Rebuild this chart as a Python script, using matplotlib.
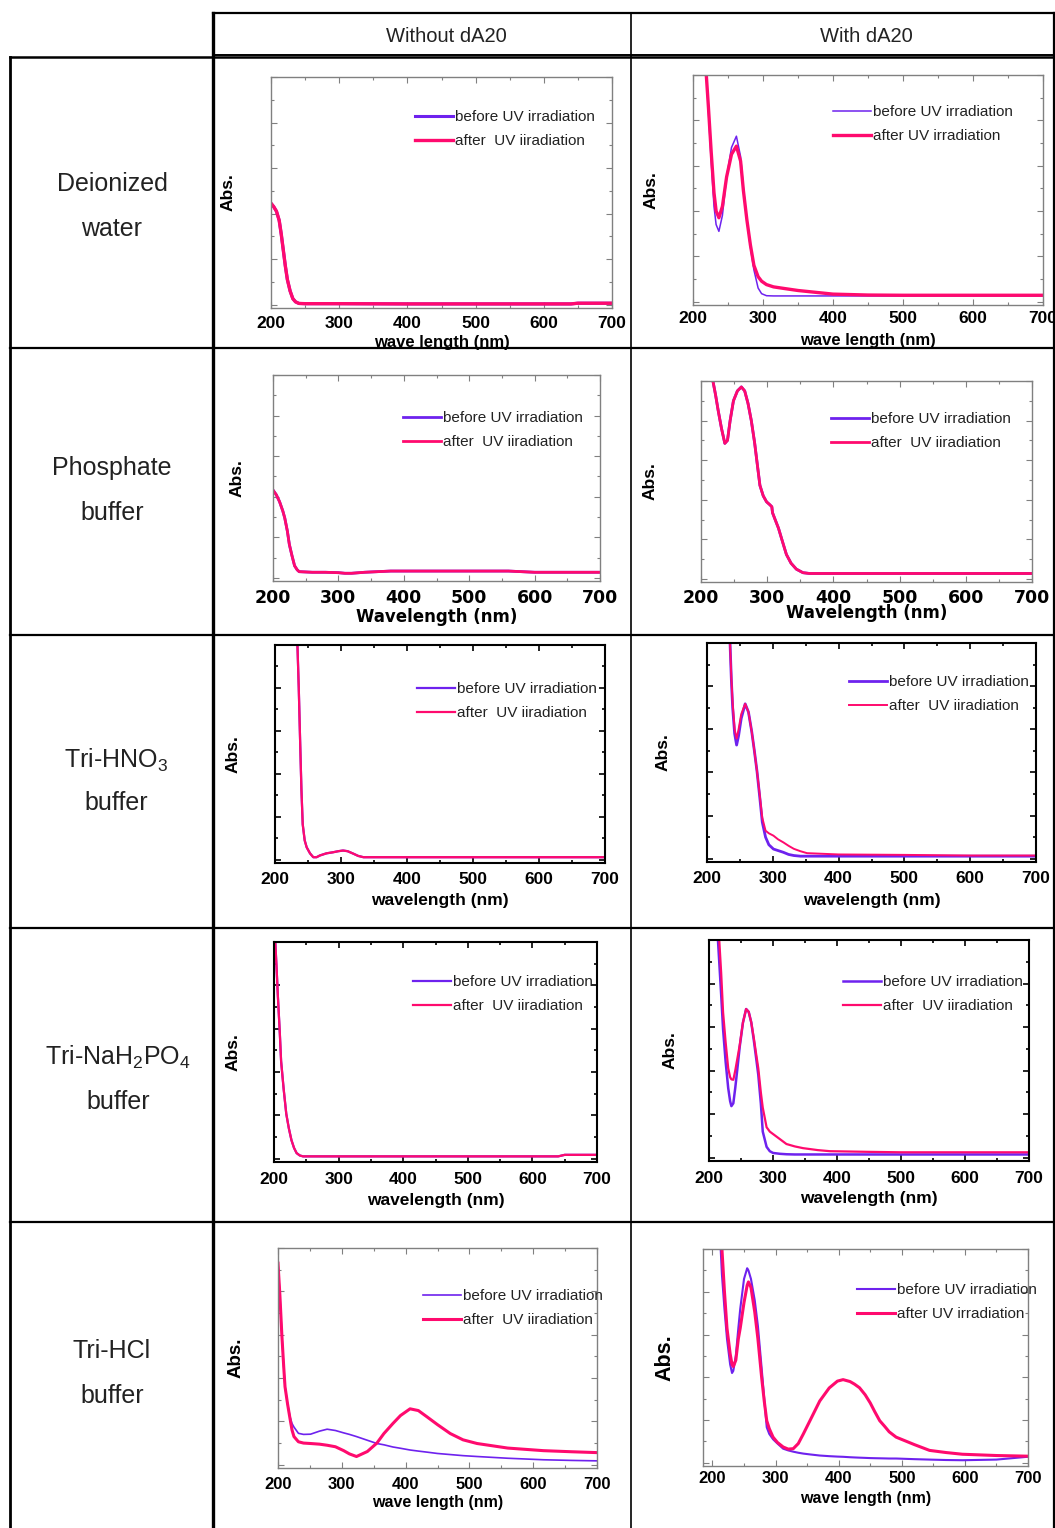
import matplotlib
matplotlib.use("Agg")
import matplotlib.pyplot as plt
from matplotlib.lines import Line2D
from matplotlib.ticker import MultipleLocator

plt.rcParams["mathtext.default"] = "regular"

W, H = 1055, 1528
BEFORE_COLOR = "#6e22ee"
AFTER_COLOR = "#ff0a6e"

col_titles = ["Without dA20", "With dA20"]
row_titles = [("Deionized", "water"), ("Phosphate", "buffer"), ("Tri-HNO$_3$", "buffer"),
              ("Tri-NaH$_2$PO$_4$", "buffer"), ("Tri-HCl", "buffer")]

# ---- spectra (relative absorbance, 0 = baseline, 1 = top of frame)
water_no_wl = [200, 204, 208, 212, 215, 218, 221, 224, 228, 232, 236, 241, 250, 300, 400, 500, 600, 640, 650, 700]
water_no_before = [0.445, 0.43, 0.41, 0.37, 0.31, 0.24, 0.17, 0.11, 0.06, 0.026, 0.012, 0.005, 0.004, 0.004, 0.003, 0.003, 0.003, 0.003, 0.006, 0.006]
water_no_after = [0.445, 0.43, 0.41, 0.37, 0.31, 0.24, 0.17, 0.11, 0.06, 0.026, 0.012, 0.005, 0.004, 0.004, 0.003, 0.003, 0.003, 0.003, 0.006, 0.006]

water_da_wl = [212, 216, 219, 222, 226, 230, 233, 237, 242, 248, 255, 262, 268, 272, 277, 282, 287, 293, 298, 305, 315, 330, 350, 400, 450, 500, 600, 700]
water_da_before = [1.25, 1.12, 1.0, 0.84, 0.62, 0.42, 0.34, 0.31, 0.38, 0.55, 0.68, 0.73, 0.64, 0.50, 0.36, 0.24, 0.14, 0.06, 0.035, 0.026, 0.025, 0.025, 0.025, 0.025, 0.025, 0.025, 0.025, 0.025]
water_da_after = [1.25, 1.12, 1.0, 0.86, 0.66, 0.48, 0.40, 0.37, 0.42, 0.55, 0.65, 0.686, 0.62, 0.49, 0.36, 0.25, 0.16, 0.11, 0.09, 0.075, 0.065, 0.058, 0.049, 0.033, 0.029, 0.028, 0.028, 0.028]

phos_no_wl = [200, 205, 210, 215, 218, 222, 225, 229, 233, 237, 240, 260, 280, 300, 310, 320, 340, 380, 450, 500, 560, 600, 700]
phos_no_before = [0.433, 0.41, 0.376, 0.33, 0.295, 0.23, 0.165, 0.11, 0.06, 0.04, 0.031, 0.028, 0.028, 0.026, 0.023, 0.023, 0.028, 0.034, 0.034, 0.034, 0.034, 0.028, 0.028]
phos_no_after = [0.433, 0.41, 0.376, 0.33, 0.295, 0.23, 0.165, 0.11, 0.06, 0.04, 0.031, 0.028, 0.028, 0.026, 0.023, 0.023, 0.028, 0.034, 0.034, 0.034, 0.034, 0.028, 0.028]

phos_da_wl = [214, 218, 222, 226, 231, 236, 240, 244, 249, 255, 261, 266, 271, 276, 281, 285, 289, 294, 299, 304, 307, 308, 312, 317, 323, 329, 336, 344, 354, 364, 400, 500, 600, 700]
phos_da_before = [1.08, 1.0, 0.93, 0.85, 0.76, 0.685, 0.70, 0.80, 0.90, 0.95, 0.97, 0.95, 0.887, 0.80, 0.688, 0.58, 0.473, 0.42, 0.39, 0.375, 0.365, 0.335, 0.30, 0.257, 0.19, 0.124, 0.08, 0.05, 0.032, 0.028, 0.028, 0.028, 0.028, 0.028]
phos_da_after = [1.08, 1.0, 0.93, 0.85, 0.76, 0.685, 0.70, 0.80, 0.90, 0.95, 0.97, 0.95, 0.887, 0.80, 0.688, 0.58, 0.473, 0.42, 0.39, 0.375, 0.365, 0.335, 0.30, 0.257, 0.19, 0.124, 0.08, 0.05, 0.032, 0.028, 0.028, 0.028, 0.028, 0.028]

hno3_no_wl = [233, 234, 236, 238, 240, 242, 245, 248, 253, 258, 263, 268, 278, 288, 296, 303, 310, 319, 326, 334, 350, 400, 500, 600, 700]
hno3_no_before = [1.1, 1.0, 0.8, 0.56, 0.33, 0.165, 0.09, 0.058, 0.03, 0.012, 0.012, 0.02, 0.03, 0.035, 0.04, 0.043, 0.04, 0.028, 0.018, 0.012, 0.012, 0.012, 0.012, 0.012, 0.012]
hno3_no_after = [1.1, 1.0, 0.8, 0.56, 0.33, 0.165, 0.09, 0.058, 0.03, 0.012, 0.012, 0.02, 0.03, 0.035, 0.04, 0.043, 0.04, 0.028, 0.018, 0.012, 0.012, 0.012, 0.012, 0.012, 0.012]

hno3_da_wl = [233, 235, 237, 239, 242, 245, 248, 252, 258, 263, 268, 272, 276, 280, 284, 289, 294, 301, 308, 316, 324, 332, 342, 352, 400, 500, 600, 700]
hno3_da_before = [1.1, 1.0, 0.83, 0.7, 0.58, 0.527, 0.57, 0.65, 0.718, 0.68, 0.589, 0.50, 0.405, 0.29, 0.17, 0.10, 0.065, 0.045, 0.038, 0.03, 0.02, 0.015, 0.012, 0.012, 0.012, 0.012, 0.012, 0.012]
hno3_da_after = [1.1, 1.0, 0.84, 0.72, 0.6, 0.557, 0.6, 0.67, 0.718, 0.68, 0.589, 0.50, 0.405, 0.30, 0.19, 0.13, 0.118, 0.107, 0.09, 0.076, 0.06, 0.046, 0.035, 0.026, 0.02, 0.018, 0.015, 0.015]

nah2po4_no_wl = [200, 202, 204, 206, 209, 211, 215, 219, 223, 227, 231, 235, 240, 245, 300, 400, 500, 600, 640, 650, 700]
nah2po4_no_before = [1.1, 1.0, 0.88, 0.75, 0.58, 0.45, 0.32, 0.207, 0.14, 0.086, 0.05, 0.026, 0.015, 0.011, 0.011, 0.011, 0.011, 0.011, 0.011, 0.018, 0.018]
nah2po4_no_after = [1.1, 1.0, 0.88, 0.75, 0.58, 0.45, 0.32, 0.207, 0.14, 0.086, 0.05, 0.026, 0.015, 0.011, 0.011, 0.011, 0.011, 0.011, 0.011, 0.018, 0.018]

nah2po4_da_wl = [212, 214, 216, 219, 222, 226, 230, 233, 235, 238, 241, 244, 248, 253, 258, 262, 266, 270, 274, 277, 281, 284, 290, 295, 300, 311, 321, 334, 347, 370, 389, 450, 500, 600, 700]
nah2po4_da_before = [1.15, 1.0, 0.9, 0.75, 0.59, 0.44, 0.32, 0.26, 0.237, 0.25, 0.32, 0.40, 0.51, 0.62, 0.683, 0.67, 0.622, 0.54, 0.45, 0.381, 0.25, 0.12, 0.05, 0.03, 0.022, 0.018, 0.016, 0.015, 0.015, 0.015, 0.015, 0.015, 0.015, 0.015, 0.015]
nah2po4_da_after = [1.15, 1.05, 1.0, 0.85, 0.668, 0.53, 0.411, 0.37, 0.36, 0.358, 0.40, 0.45, 0.517, 0.62, 0.683, 0.67, 0.622, 0.55, 0.47, 0.411, 0.30, 0.23, 0.14, 0.12, 0.109, 0.085, 0.063, 0.052, 0.044, 0.035, 0.030, 0.027, 0.025, 0.025, 0.025]

hcl_no_wl = [200, 203, 206, 209, 211, 215, 219, 222, 225, 232, 240, 251, 265, 277, 290, 303, 312, 323, 340, 355, 366, 380, 392, 407, 420, 434, 450, 470, 490, 512, 560, 616, 660, 700]
hcl_no_before = [0.93, 0.78, 0.6, 0.45, 0.36, 0.28, 0.22, 0.19, 0.174, 0.145, 0.14, 0.141, 0.155, 0.164, 0.158, 0.147, 0.14, 0.13, 0.113, 0.098, 0.092, 0.082, 0.076, 0.068, 0.063, 0.058, 0.052, 0.047, 0.042, 0.038, 0.03, 0.023, 0.02, 0.018]
hcl_no_after = [0.93, 0.78, 0.6, 0.45, 0.36, 0.28, 0.21, 0.16, 0.13, 0.106, 0.1, 0.098, 0.095, 0.09, 0.083, 0.065, 0.05, 0.038, 0.061, 0.1, 0.144, 0.19, 0.227, 0.258, 0.25, 0.22, 0.185, 0.144, 0.115, 0.098, 0.077, 0.065, 0.06, 0.056]

hcl_da_wl = [210, 213, 215, 219, 223, 228, 231, 233, 237, 241, 244, 250, 255, 257, 261, 267, 272, 278, 282, 286, 290, 296, 303, 312, 320, 328, 336, 344, 355, 370, 385, 398, 407, 418, 425, 433, 442, 450, 457, 465, 473, 480, 491, 520, 544, 570, 596, 650, 699]
hcl_da_before = [1.2, 1.0, 0.88, 0.72, 0.58, 0.46, 0.42, 0.43, 0.50, 0.63, 0.72, 0.86, 0.91, 0.90, 0.86, 0.76, 0.64, 0.44, 0.3, 0.166, 0.135, 0.11, 0.09, 0.066, 0.058, 0.052, 0.047, 0.043, 0.039, 0.034, 0.031, 0.029, 0.028, 0.026, 0.025, 0.024, 0.023, 0.022, 0.0215, 0.021, 0.0205, 0.02, 0.02, 0.017, 0.015, 0.013, 0.012, 0.015, 0.028]
hcl_da_after = [1.2, 1.1, 1.0, 0.8, 0.63, 0.51, 0.46, 0.45, 0.48, 0.58, 0.63, 0.75, 0.83, 0.846, 0.82, 0.705, 0.58, 0.397, 0.29, 0.197, 0.16, 0.12, 0.095, 0.074, 0.064, 0.066, 0.09, 0.135, 0.20, 0.289, 0.35, 0.382, 0.389, 0.38, 0.368, 0.351, 0.318, 0.28, 0.24, 0.197, 0.17, 0.145, 0.12, 0.085, 0.058, 0.048, 0.04, 0.034, 0.031]

xtick_values = [200, 300, 400, 500, 600, 700]

fig = plt.figure(figsize=(W / 100, H / 100), dpi=100)

NARROW = ["Liberation Sans Narrow", "Liberation Sans"]
ARIAL = ["Liberation Sans"]
WIDE = ["DejaVu Sans"]

# layout per panel: (l, t, r, b) frame in px, tick-label y, xlabel y, ylabel x
panels = [
    dict(data=(water_no_wl, water_no_before, water_no_after), box=(271, 77, 612, 308), ty=323, ly=343, yx=228,
         frame="#808080", fw=1.0, tf=NARROW, ts=12.5, xl="wave length (nm)", xs=12, lw=(2.2, 2.4),
         leg=(415, 117), after_lab="after  UV iiradiation", xlim=(200, 700), ys=12.5),
    dict(data=(water_da_wl, water_da_before, water_da_after), box=(693, 75, 1043, 305), ty=318, ly=340, yx=651,
         frame="#808080", fw=1.0, tf=NARROW, ts=12.5, xl="wave length (nm)", xs=12, lw=(1.1, 2.4),
         leg=(833, 112), after_lab="after UV irradiation", xlim=(200, 700), ys=12.5),
    dict(data=(phos_no_wl, phos_no_before, phos_no_after), box=(273, 375, 600, 581), ty=596, ly=617, yx=237,
         frame="#808080", fw=1.0, tf=WIDE, ts=12.5, xl="Wavelength (nm)", xs=12, lw=(2.0, 2.0),
         leg=(403, 418), after_lab="after  UV iiradiation", xlim=(200, 700), ys=12.5),
    dict(data=(phos_da_wl, phos_da_before, phos_da_after), box=(701, 381, 1032, 582), ty=596, ly=613, yx=650,
         frame="#808080", fw=1.0, tf=WIDE, ts=12.5, xl="Wavelength (nm)", xs=12, lw=(2.0, 2.0),
         leg=(831, 419), after_lab="after  UV iiradiation", xlim=(200, 700), ys=12.5),
    dict(data=(hno3_no_wl, hno3_no_before, hno3_no_after), box=(275, 645, 605, 863), ty=879, ly=900, yx=233,
         frame="black", fw=1.5, tf=ARIAL, ts=12.5, xl="wavelength (nm)", xs=12.5, lw=(1.6, 1.6),
         leg=(417, 689), after_lab="after  UV iiradiation", xlim=(200, 700), ys=12.5),
    dict(data=(hno3_da_wl, hno3_da_before, hno3_da_after), box=(707, 643, 1036, 862), ty=878, ly=900, yx=663,
         frame="black", fw=1.5, tf=ARIAL, ts=12.5, xl="wavelength (nm)", xs=12.5, lw=(2.0, 1.4),
         leg=(849, 682), after_lab="after  UV iiradiation", xlim=(200, 700), ys=12.5),
    dict(data=(nah2po4_no_wl, nah2po4_no_before, nah2po4_no_after), box=(274, 942, 597, 1162), ty=1179, ly=1201, yx=233,
         frame="black", fw=1.5, tf=ARIAL, ts=12.5, xl="wavelength (nm)", xs=12.5, lw=(1.6, 1.6),
         leg=(413, 982), after_lab="after  UV iiradiation", xlim=(200, 700), ys=12.5),
    dict(data=(nah2po4_da_wl, nah2po4_da_before, nah2po4_da_after), box=(709, 940, 1029, 1161), ty=1178, ly=1198, yx=670,
         frame="black", fw=1.5, tf=ARIAL, ts=12.5, xl="wavelength (nm)", xs=12.5, lw=(1.8, 1.6),
         leg=(843, 982), after_lab="after  UV iiradiation", xlim=(200, 700), ys=12.5),
    dict(data=(hcl_no_wl, hcl_no_before, hcl_no_after), box=(278, 1248, 597, 1468), ty=1484, ly=1502, yx=236,
         frame="#808080", fw=1.0, tf=NARROW, ts=12, xl="wave length (nm)", xs=11.5, lw=(1.2, 2.2),
         leg=(423, 1296), after_lab="after  UV iiradiation", xlim=(200, 700), ys=13.5),
    dict(data=(hcl_da_wl, hcl_da_before, hcl_da_after), box=(703, 1249, 1028, 1466), ty=1478, ly=1499, yx=665,
         frame="#808080", fw=1.0, tf=NARROW, ts=12, xl="wave length (nm)", xs=11.5, lw=(1.5, 2.2),
         leg=(857, 1290), after_lab="after UV irradiation", xlim=(185, 700), ys=15.5),
]

for p in panels:
    l, t, r, b = p["box"]
    w, h = r - l, b - t
    ax = fig.add_axes([l / W, 1 - b / H, w / W, h / H])
    wl, before, after = p["data"]
    ax.plot(wl, before, color=BEFORE_COLOR, lw=p["lw"][0], label="before UV irradiation")
    ax.plot(wl, after, color=AFTER_COLOR, lw=p["lw"][1], label=p["after_lab"])
    ax.set_xlim(*p["xlim"])
    ax.set_ylim(-0.015, 1.0)
    ax.set_xticks(xtick_values)
    ax.xaxis.set_minor_locator(MultipleLocator(50))
    ax.yaxis.set_major_locator(MultipleLocator(0.2))
    ax.yaxis.set_minor_locator(MultipleLocator(0.1))
    ax.tick_params(which="both", direction="in", top=True, right=True, labelleft=False,
                   color=p["frame"], width=p["fw"] * 0.8)
    ax.tick_params(which="major", length=4)
    ax.tick_params(which="minor", length=2)
    ax.tick_params(axis="x", pad=(p["ty"] - 7 - b) * 0.72)
    for s in ax.spines.values():
        s.set_color(p["frame"])
        s.set_linewidth(p["fw"])
    for lab in ax.get_xticklabels():
        lab.set_fontfamily(p["tf"])
        lab.set_fontweight("bold")
        lab.set_fontsize(p["ts"])
    ax.set_xlabel(p["xl"], family=p["tf"], fontweight="bold", fontsize=p["xs"], va="center")
    ax.xaxis.set_label_coords(0.5, -(p["ly"] - b) / h)
    ax.set_ylabel("Abs.", family=ARIAL, fontweight="bold", fontsize=p["ys"], va="center")
    ax.yaxis.set_label_coords(-(l - p["yx"]) / w, 0.5)
    hx, hy = p["leg"]
    ax.legend(loc="upper left", bbox_to_anchor=((hx - l) / w, (b - (hy - 7)) / h), frameon=False,
              prop={"family": NARROW, "size": 11}, borderpad=0, borderaxespad=0,
              handlelength=2.5, handletextpad=0.15, labelspacing=0.68, labelcolor="#222222")

# ---- table grid
def hline(y, x0, x1, lw):
    fig.add_artist(Line2D([x0 / W, x1 / W], [1 - y / H, 1 - y / H], color="black", lw=lw,
                          transform=fig.transFigure))

def vline(x, y0, y1, lw):
    fig.add_artist(Line2D([x / W, x / W], [1 - y0 / H, 1 - y1 / H], color="black", lw=lw,
                          transform=fig.transFigure))

hline(13, 213, 1055, 1.6)
hline(55, 213, 1055, 1.4)
hline(57, 10, 1055, 1.8)
for y in [348, 635, 928, 1222]:
    hline(y, 10, 1055, 1.6)
vline(213, 13, 1528, 2.4)
vline(10, 57, 1528, 2.0)
vline(631, 13, 1528, 1.2)
vline(1054, 13, 1528, 1.6)

fig.text(446 / W, 1 - 36 / H, col_titles[0], ha="center", va="center", fontsize=14.5,
         family=ARIAL, color="#222222")
fig.text(866 / W, 1 - 36 / H, col_titles[1], ha="center", va="center", fontsize=14.5,
         family=ARIAL, color="#222222")

row_label_pos = [(112, 184, 229), (112, 468, 513), (116, 760, 803), (118, 1057, 1102), (112, 1351, 1396)]
for (top_txt, bot_txt), (x, y1, y2) in zip(row_titles, row_label_pos):
    fig.text(x / W, 1 - y1 / H, top_txt, ha="center", va="center", fontsize=18, family=ARIAL, color="#222222")
    fig.text(x / W, 1 - y2 / H, bot_txt, ha="center", va="center", fontsize=18, family=ARIAL, color="#222222")

fig.savefig("out.png", dpi=100)
